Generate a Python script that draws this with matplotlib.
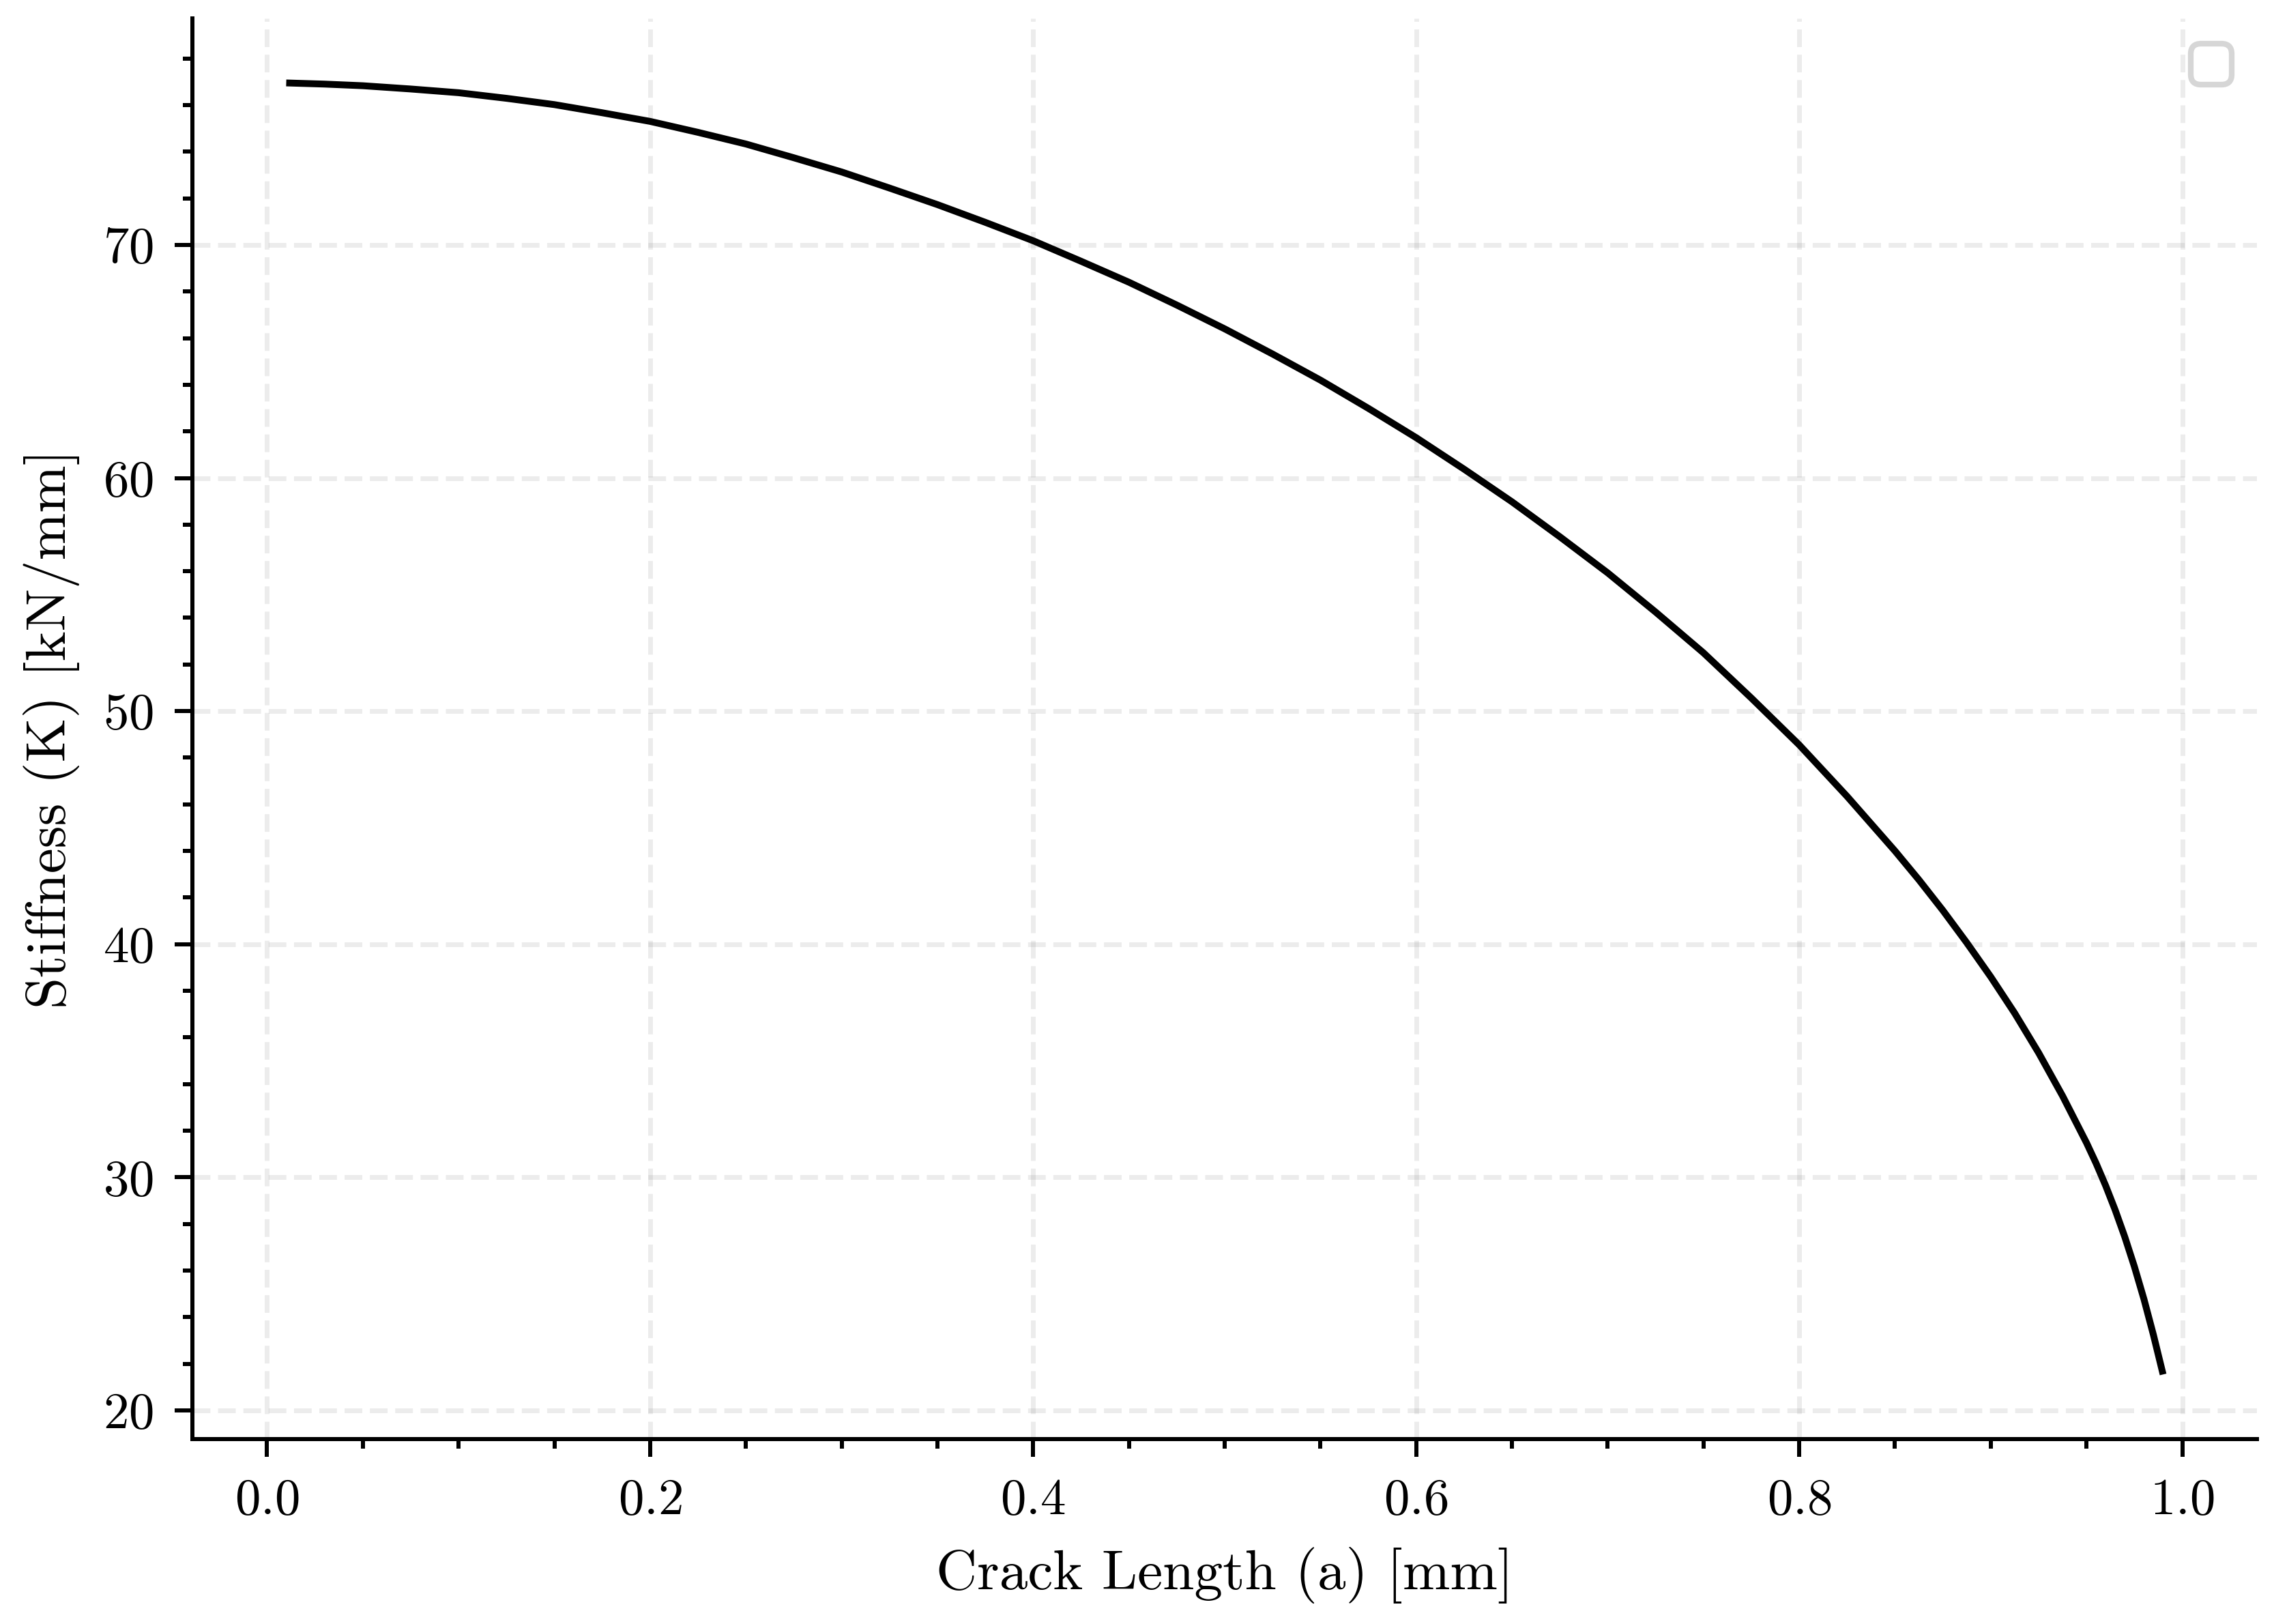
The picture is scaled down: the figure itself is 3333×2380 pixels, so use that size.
import warnings

import matplotlib
matplotlib.use('Agg')
import matplotlib.pyplot as plt
from matplotlib.ticker import AutoMinorLocator

# Values
crack_length = [0.01, 0.03, 0.05, 0.075, 0.10, 0.125, 0.15, 0.175, 0.20, 0.225,
                0.25, 0.275, 0.30, 0.325, 0.35, 0.375, 0.40, 0.425, 0.45, 0.475,
                0.50, 0.525, 0.55, 0.575, 0.60, 0.625, 0.65, 0.675, 0.70, 0.725,
                0.75, 0.775, 0.80, 0.825, 0.85, 0.8625, 0.875, 0.8875, 0.90, 0.9125,
                0.925, 0.9375, 0.95, 0.955, 0.96, 0.965, 0.97, 0.975, 0.98, 0.985,
                0.99]
stiffness = [76.95, 76.9, 76.83, 76.69, 76.53, 76.29, 76.02, 75.67, 75.3, 74.83,
             74.33, 73.74, 73.13, 72.44, 71.73, 70.97, 70.18, 69.3, 68.4, 67.42,
             66.4, 65.32, 64.2, 62.99, 61.73, 60.38, 58.98, 57.48, 55.93, 54.25,
             52.5, 50.56, 48.55, 46.34, 44.0, 42.76, 41.45, 40.06, 38.6, 37.04,
             35.34, 33.49, 31.48, 30.6, 29.64, 28.59, 27.44, 26.17, 24.77, 23.22,
             21.54]

x_label = 'Crack Length (a) [mm]'
y_label = 'Stiffness (K) [kN/mm]'

plt.rcParams['font.family'] = 'serif'
plt.rcParams['font.serif'] = ['cmr10', 'DejaVu Serif']
plt.rcParams['mathtext.fontset'] = 'cm'
plt.rcParams['axes.formatter.use_mathtext'] = True
plt.rcParams['axes.unicode_minus'] = False
plt.rcParams['font.size'] = 9

fig = plt.figure(figsize=(3333 / 600, 2380 / 600), dpi=600)
ax = fig.gca()
fig.subplots_adjust(left=0.0846, right=0.9925, top=0.9887, bottom=0.1139)

ax.plot(crack_length, stiffness, color='black', linewidth=1.2,
        solid_joinstyle='round', solid_capstyle='butt')

ax.set_xlabel(x_label, fontsize=10)
ax.set_ylabel(y_label, fontsize=10)

# grid and axes styling
ax.grid(True, which='major', linestyle='--', color='gray', alpha=0.15, linewidth=0.84)
ax.spines['top'].set_visible(False)
ax.spines['right'].set_visible(False)
for side in ['left', 'bottom']:
    ax.spines[side].set_linewidth(0.72)

ax.xaxis.set_minor_locator(AutoMinorLocator())
ax.yaxis.set_minor_locator(AutoMinorLocator())
ax.tick_params(which='both', direction='out', width=0.72, labelsize=9)
ax.tick_params(which='major', length=3.1, pad=3.8)
ax.tick_params(which='minor', length=1.65)

# the original has an empty legend box in the corner
with warnings.catch_warnings():
    warnings.simplefilter('ignore')
    ax.legend(loc='upper right')

fig.savefig('out.png', dpi=600)
